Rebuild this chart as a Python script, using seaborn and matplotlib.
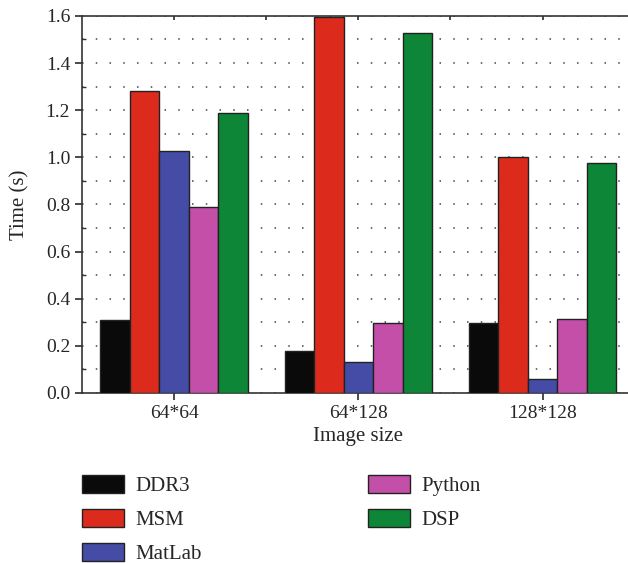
"""Processing time per image size for each implementation."""

import pandas as pd
import matplotlib.pyplot as plt
import seaborn as sns
from matplotlib.ticker import MultipleLocator

sizes = ["64*64", "64*128", "128*128"]
methods = ["DDR3", "MSM", "MatLab", "Python", "DSP"]
ddr3 = [0.31, 0.18, 0.295]
msm = [1.28, 1.595, 1.0]
matlab = [1.027, 0.13, 0.06]
python = [0.79, 0.298, 0.312]
dsp = [1.186, 1.527, 0.976]
colors = ["#0a0a0a", "#dc2b1c", "#454ca6", "#c44fa8", "#0e8637"]

rows = []
for name, vals in zip(methods, [ddr3, msm, matlab, python, dsp]):
    for s, v in zip(sizes, vals):
        rows.append({"Image size": s, "Time (s)": v, "Method": name})
df = pd.DataFrame(rows)

sns.set_theme(style="ticks")
plt.rcParams['font.family'] = ['Liberation Serif', 'DejaVu Serif']

fig = plt.figure(figsize=(6.28, 5.63), dpi=100)
ax = fig.add_axes([0.1306, 0.302, 0.88, 0.6698])

sns.barplot(data=df, x="Image size", y="Time (s)", hue="Method", hue_order=methods,
            palette=colors, saturation=1, edgecolor="#222222", linewidth=1,
            width=0.8, ax=ax, zorder=3)

ax.set_ylim(0, 1.6)
ax.set_xlim(-0.5, 2.5)
ax.yaxis.set_major_locator(MultipleLocator(0.2))
ax.yaxis.set_minor_locator(MultipleLocator(0.1))
ax.set_yticklabels([f"{t:.1f}" for t in ax.get_yticks()])
ax.grid(axis="y", which="both", linestyle=(0, (1, 8)), color="#444444", linewidth=1.1, zorder=0)
ax.set_axisbelow(True)
ax.tick_params(axis="both", which="major", labelsize=14, direction="out", length=5, color="#333333")
ax.tick_params(axis="y", which="minor", direction="in", length=3, color="#333333")
ax.set_xlabel("Image size", fontsize=15, labelpad=4)
ax.set_ylabel("Time (s)", fontsize=15, labelpad=12)
for sp in ax.spines.values():
    sp.set_color("#333333")
    sp.set_linewidth(1.2)
ax.spines["right"].set_visible(False)

top = ax.secondary_xaxis("top")
top.set_xticks([0, 0.5, 1, 1.5, 2])
top.tick_params(direction="in", length=3, labeltop=False, color="#333333")
top.spines["top"].set_visible(False)

handles, labels = ax.get_legend_handles_labels()
ax.legend_.remove()
fig.legend(handles, labels, loc="upper left", bbox_to_anchor=(0.1306, 0.157), ncol=2,
           frameon=False, fontsize=15, borderpad=0, borderaxespad=0,
           handlelength=2.0, handleheight=0.95,
           handletextpad=0.55, columnspacing=8.0, labelspacing=0.62)

fig.savefig("out.png", dpi=100)
